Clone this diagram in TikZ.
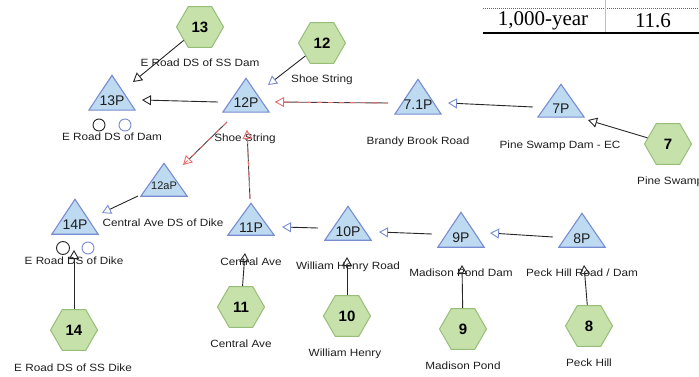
\documentclass[tikz,border=0pt]{standalone}
\usepackage{fontspec}
\setmainfont{Liberation Sans}
\newfontfamily\lblfont[FakeStretch=1.12]{Liberation Sans}
\newfontfamily\tabfont{Liberation Serif}
\usetikzlibrary{shapes.geometric,arrows.meta,calc}
\definecolor{hexfill}{RGB}{198,225,170}
\definecolor{hexline}{RGB}{150,190,120}
\definecolor{trifill}{RGB}{190,218,240}
\definecolor{triline}{RGB}{120,140,210}
\definecolor{redline}{RGB}{235,110,110}
\definecolor{txt}{RGB}{30,30,30}
\begin{document}
\begin{tikzpicture}[x=1pt,y=-1pt,
 hexnode/.style={regular polygon, regular polygon sides=6, minimum size=47pt, inner sep=0pt,
   fill=hexfill, draw=hexline, line width=1pt, font=\fontsize{15}{16}\selectfont\bfseries, text=black},
 tri/.style={minimum width=48pt, minimum height=#1, inner sep=0pt, outer sep=0pt, text=txt,
   font=\fontsize{14}{15}\selectfont,
   path picture={\path[fill=trifill, draw=triline, line width=1.1pt]
     ([shift={(0.8pt,0.8pt)}]path picture bounding box.south west) --
     ([yshift=-1.3pt]path picture bounding box.north) --
     ([shift={(-0.8pt,0.8pt)}]path picture bounding box.south east) -- cycle;}},
 lbl/.style={font=\lblfont\fontsize{10.5}{12}\selectfont, text=txt, inner sep=0pt},
 ring/.style={circle, draw=black!85, line width=0.9pt, minimum size=12pt, inner sep=0pt},
 bluering/.style={circle, draw=triline, line width=0.9pt, minimum size=12pt, inner sep=0pt},
 conn/.style={draw=black!85, line width=0.9pt, -{Triangle[open,length=9pt,width=10pt]}},
 blueconn/.style={draw=black!85, line width=0.9pt, -{Triangle[open,length=9pt,width=10pt,color=triline]}},
 redconn/.style={draw=black!75, line width=0.9pt, -{Triangle[open,length=9pt,width=10pt,color=redline]},
   postaction={draw=redline, -, dash pattern=on 5pt off 6pt, line width=0.9pt}},
]
\useasboundingbox (0,0) rectangle (699,377);

% table fragment
\draw[black!60, dash pattern=on 1pt off 1pt, line width=0.8pt] (483,8) -- (699,8);
\draw[black!25, line width=1pt] (605,0) -- (605,33);
\draw[black, line width=2pt] (483,33) -- (699,33);
\node[font=\tabfont\fontsize{21}{22}\selectfont, inner sep=0pt] (t1) at (543,21) {1,000-year};
\node[font=\tabfont\fontsize{21}{22}\selectfont, inner sep=0pt] (t2) at (653,21) {11.6};

% hexagons
\node[hexnode] (h13) at (200,27) {13};
\node[hexnode] (h12) at (322,43) {12};
\node[hexnode] (h7) at (668,144) {7};
\node[hexnode] (h14) at (74,330) {14};
\node[hexnode] (h11) at (241,307) {11};
\node[hexnode] (h10) at (347,316) {10};
\node[hexnode] (h9) at (463,329) {9};
\node[hexnode] (h8) at (589,326) {8};

% triangles
\node[tri=37pt] (p13) at (112,92.5) {\raisebox{-13pt}[0pt][0pt]{13P}};
\node[tri=36pt] (p12) at (246,95) {\raisebox{-13pt}[0pt][0pt]{12P}};
\node[tri=37pt] (p71) at (418,96.5) {\raisebox{-13pt}[0pt][0pt]{7.1P}};
\node[tri=35pt] (p7) at (561,100.5) {\raisebox{-13pt}[0pt][0pt]{7P}};
\node[tri=35pt, font=\fontsize{11}{12}\selectfont] (p12a) at (164,179.5) {\raisebox{-10pt}[0pt][0pt]{12aP}};
\node[tri=37pt] (p14) at (75,216.5) {\raisebox{-13pt}[0pt][0pt]{14P}};
\node[tri=34pt] (p11) at (251,219) {\raisebox{-13pt}[0pt][0pt]{11P}};
\node[tri=36pt] (p10) at (348,223) {\raisebox{-13pt}[0pt][0pt]{10P}};
\node[tri=37pt] (p9) at (461,229.5) {\raisebox{-13pt}[0pt][0pt]{9P}};
\node[tri=36pt] (p8) at (582,230) {\raisebox{-13pt}[0pt][0pt]{8P}};

% rings
\node[ring] (c1) at (99,125) {};
\node[bluering] (c2) at (125,125) {};
\node[ring, minimum size=13pt] (c3) at (63,248) {};
\node[bluering] (c4) at (88,248) {};

% labels
\node[lbl] (l1) at (200,63) {E Road DS of SS Dam};
\node[lbl, anchor=west] (l2) at (291,80) {Shoe String};
\node[lbl] (l3) at (112,137) {E Road DS of Dam};
\node[lbl] (l4) at (245,139) {Shoe String};
\node[lbl] (l5) at (418,142) {Brandy Brook Road};
\node[lbl] (l6) at (560,146) {Pine Swamp Dam - EC};
\node[lbl, anchor=west] (l7) at (637,182) {Pine Swamp};
\node[lbl] (l8) at (163,223) {Central Ave DS of Dike};
\node[lbl] (l9) at (74,261) {E Road DS of Dike};
\node[lbl] (l10) at (73,368) {E Road DS of SS Dike};
\node[lbl] (l11) at (251,262) {Central Ave};
\node[lbl] (l12) at (241,344) {Central Ave};
\node[lbl] (l13) at (348,267) {William Henry Road};
\node[lbl] (l14) at (345,354) {William Henry};
\node[lbl] (l15) at (461,273) {Madison Pond Dam};
\node[lbl] (l16) at (582,273) {Peck Hill Road / Dam};
\node[lbl] (l17) at (463,366) {Madison Pond};
\node[lbl] (l18) at (589,363) {Peck Hill};

% connectors
\draw[conn] (h13) -- ($(p13.north)+(21,8)$);
\draw[blueconn] (h12) -- ($(p12.north)+(22,8)$);
\draw[conn] ($(p12.center)+(-28,7)$) -- ($(p13.center)+(30,7.5)$);
\draw[redconn] ($(p71.center)+(-30,6.5)$) -- ($(p12.center)+(29,7)$);
\draw[blueconn] ($(p7.center)+(-28,6.5)$) -- ($(p71.center)+(30,6.5)$);
\draw[conn] (h7) -- ($(p7.center)+(27,19.5)$);
\draw[redconn] ($(p12.center)+(-19,27)$) -- ($(p12a.center)+(19,-14.5)$);
\draw[redconn] ($(p11.north)+(-1,-3)$) -- ($(p12.south)+(1,17)$);
\draw[blueconn] ($(p12a.south west)+(-2,-1)$) -- ($(p14.center)+(27,-3.5)$);
\draw[blueconn] ($(p10.center)+(-30,5)$) -- ($(p11.center)+(31,8)$);
\draw[blueconn] ($(p9.center)+(-29,4.5)$) -- ($(p10.center)+(31,9)$);
\draw[blueconn] ($(p8.center)+(-29,7)$) -- ($(p9.center)+(29,3.5)$);
\draw[conn] (h11) -- ($(p11.south)+(-6,17)$);
\draw[conn] (h10) -- ($(p10.south)+(-1,16)$);
\draw[conn] (h9) -- ($(p9.south)+(1,17)$);
\draw[conn] (h8) -- ($(p8.south)+(2,17)$);
\draw[conn] (h14) -- ($(p14.south)+(-1,15)$);
\end{tikzpicture}
\end{document}
